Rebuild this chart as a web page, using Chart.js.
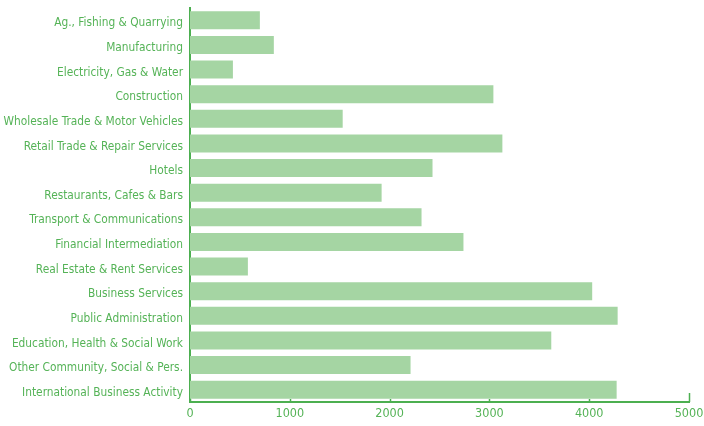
<!DOCTYPE html>
<html>
<head>
<meta charset="utf-8">
<script src="https://cdn.jsdelivr.net/npm/chart.js@4"></script>
<style>
html,body{margin:0;padding:0;background:#fff;}
#wrap{width:704px;height:426px;}
</style>
</head>
<body>
<div id="wrap"><canvas id="c" width="704" height="426"></canvas></div>
<script>
const categories = [
  "Ag., Fishing & Quarrying",
  "Manufacturing",
  "Electricity, Gas & Water",
  "Construction",
  "Wholesale Trade & Motor Vehicles",
  "Retail Trade & Repair Services",
  "Hotels",
  "Restaurants, Cafes & Bars",
  "Transport & Communications",
  "Financial Intermediation",
  "Real Estate & Rent Services",
  "Business Services",
  "Public Administration",
  "Education, Health & Social Work",
  "Other Community, Social & Pers.",
  "International Business Activity"
];
const values = [700, 840, 430, 3040, 1530, 3130, 2430, 1920, 2320, 2740, 580, 4030, 4285, 3620, 2210, 4275];
const xTicks = [0, 1000, 2000, 3000, 4000, 5000];

const GREEN = '#4caf50';
const TEXT = '#55b357';
const BAR = '#a5d5a3';
const FONT = '"DejaVu Sans Condensed", "Liberation Sans", sans-serif';

const innerTicks = {
  id: 'innerTicks',
  afterDatasetsDraw(chart) {
    const ctx = chart.ctx;
    const x = chart.scales.x;
    const y = chart.scales.y;
    ctx.save();
    ctx.strokeStyle = GREEN;
    ctx.lineWidth = 1.5;
    x.ticks.forEach((t, i) => {
      const px = Math.round(x.getPixelForValue(t.value)) + 0.5;
      const len = (i === x.ticks.length - 1) ? 9 : 3;
      ctx.beginPath();
      ctx.moveTo(px, y.bottom);
      ctx.lineTo(px, y.bottom - len);
      ctx.stroke();
    });
    ctx.restore();
  }
};

new Chart(document.getElementById('c'), {
  type: 'bar',
  data: {
    labels: categories,
    datasets: [{
      data: values,
      backgroundColor: BAR,
      borderWidth: 0,
      categoryPercentage: 0.73,
      barPercentage: 1.0
    }]
  },
  options: {
    indexAxis: 'y',
    responsive: false,
    animation: false,
    layout: { padding: { top: 8, right: 15, bottom: 0, left: 0 } },
    plugins: { legend: { display: false }, tooltip: { enabled: false } },
    scales: {
      x: {
        min: 0, max: 5000,
        afterBuildTicks(scale) { scale.ticks = xTicks.map(v => ({ value: v })); },
        afterFit(scale) { scale.height = 24; scale.paddingRight = 0; scale.paddingLeft = 0; },
        grid: { display: false, drawTicks: false },
        border: { display: true, color: GREEN, width: 2 },
        ticks: {
          color: TEXT,
          font: { family: FONT, size: 12.5 },
          padding: 4,
          maxRotation: 0,
          callback: (v) => String(v)
        }
      },
      y: {
        afterFit(scale) { scale.width = 190; scale.paddingTop = 0; scale.paddingBottom = 0; },
        grid: { display: false, drawTicks: false },
        border: { display: true, color: GREEN, width: 2 },
        ticks: {
          color: TEXT,
          font: { family: FONT, size: 11.8 },
          padding: 7,
          labelOffset: 3,
          autoSkip: false
        }
      }
    }
  },
  plugins: [innerTicks]
});
</script>
</body>
</html>
